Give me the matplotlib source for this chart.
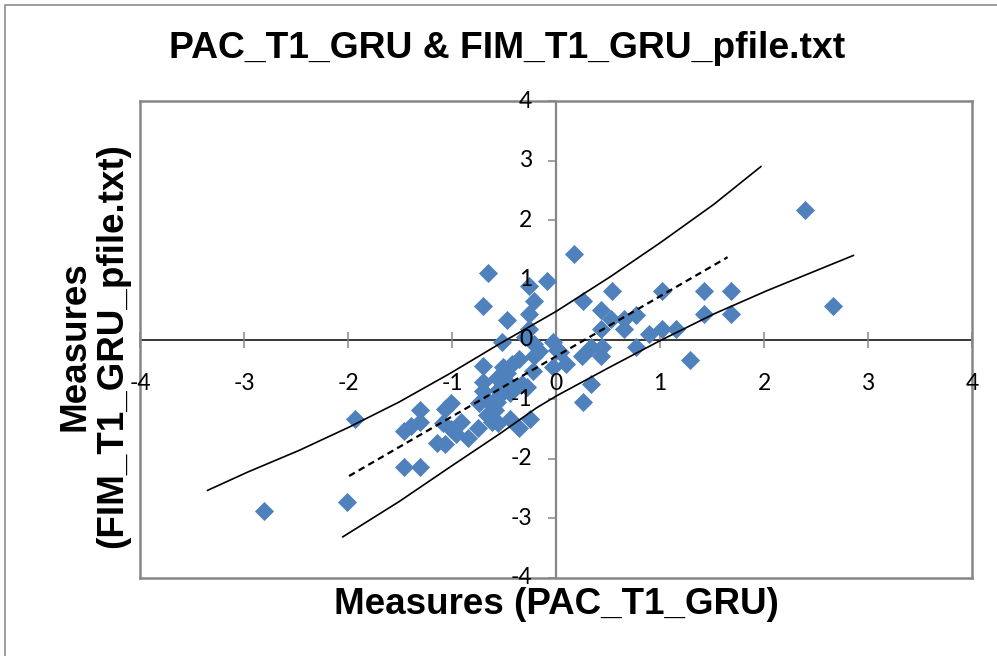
import matplotlib.pyplot as plt
import matplotlib.patches as patches
import matplotlib.transforms as mtransforms
import numpy as np

# item measures: PAC_T1_GRU (x) vs FIM_T1_GRU_pfile.txt (y)
pac = [2.39, 2.66, 0.17, -0.65, -0.09, -0.26, -0.21, -0.70, -0.26, -0.47,
       -0.26, 0.54, 1.02, 1.42, 1.68, 0.26, 0.43, 0.53, 0.65, 0.77,
       1.42, 1.68, 0.43, 0.65, 1.02, 1.15, 0.89, -0.52, -0.30, -0.21,
       -0.03, 0.01, -0.16, -0.21, -0.36, -0.42, -0.51, -0.70, -0.03, 0.10,
       -0.22, -0.47, 0.25, 0.34, 0.44, 0.43, 0.77, 0.04, 1.29, 0.34,
       0.26, -0.57, -0.70, -0.45, -0.33, -0.28, -0.39, -0.56, -0.44, -0.70,
       -0.56, -0.74, -0.64, -1.01, -0.59, -1.07, -1.31, -0.66, -1.93, -0.44,
       -0.25, -0.56, -1.09, -1.31, -0.91, -1.39, -0.75, -0.36, -1.46, -1.01,
       -0.96, -0.85, -1.14, -1.07, -1.46, -1.31, -2.01, -2.81, -0.62, -0.57]
fim = [2.17, 0.57, 1.44, 1.12, 0.98, 0.90, 0.65, 0.57, 0.42, 0.33,
       0.17, 0.82, 0.82, 0.82, 0.82, 0.64, 0.49, 0.34, 0.35, 0.41,
       0.42, 0.42, 0.18, 0.17, 0.18, 0.18, 0.09, -0.04, 0.04, -0.07,
       -0.05, -0.17, -0.19, -0.27, -0.32, -0.41, -0.46, -0.45, -0.46, -0.41,
       -0.53, -0.56, -0.27, -0.13, -0.12, -0.28, -0.13, -0.21, -0.34, -0.74,
       -1.05, -0.65, -0.72, -0.74, -0.75, -0.80, -0.82, -0.85, -0.90, -0.86,
       -0.97, -1.06, -1.05, -1.06, -1.19, -1.17, -1.19, -1.27, -1.33, -1.33,
       -1.34, -1.40, -1.40, -1.39, -1.39, -1.45, -1.49, -1.48, -1.54, -1.50,
       -1.58, -1.66, -1.73, -1.76, -2.14, -2.14, -2.73, -2.88, -1.38, -1.05]

# identity line (dashed)
ident_x = [-1.99, 1.65]
ident_y = [-2.29, 1.38]

# confidence band curves
upper_x = [-3.35, -2.96, -2.47, -1.99, -1.51, -1.02, -0.54, 0.00, 0.52, 1.00, 1.52, 1.97]
upper_y = [-2.53, -2.22, -1.86, -1.47, -1.05, -0.57, -0.07, 0.47, 1.05, 1.62, 2.27, 2.90]
lower_x = [-2.05, -1.51, -1.02, -0.54, -0.19, 0.00, 0.50, 1.00, 1.52, 2.03, 2.86]
lower_y = [-3.31, -2.72, -2.14, -1.58, -1.15, -0.95, -0.48, -0.02, 0.43, 0.82, 1.41]

ticks = [-4, -3, -2, -1, 0, 1, 2, 3, 4]

title = "PAC_T1_GRU & FIM_T1_GRU_pfile.txt"
xlab = "Measures (PAC_T1_GRU)"
ylab = "Measures\n(FIM_T1_GRU_pfile.txt)"

W, H = 997, 656
fig = plt.figure(figsize=(W / 100, H / 100), dpi=100)

# outer chart border (runs off the right/bottom of the image)
fig.patches.append(patches.Rectangle((4.5 / W, -0.2), 2, 1.2 - 5 / H,
                                     transform=fig.transFigure, fill=False,
                                     edgecolor="#8c8c8c", lw=1.2))

ax = fig.add_axes([140 / W, (H - 578) / H, 832 / W, 477 / H])
ax.set_xlim(-4, 4)
ax.set_ylim(-4, 4)
ax.set_xticks([])
ax.set_yticks([])
for s in ax.spines.values():
    s.set_color("#868686")
    s.set_linewidth(1.8)

# axes crossing at zero
ax.axhline(0, color="black", lw=1.1, zorder=1)
ax.axvline(0, color="#868686", lw=1.6, zorder=1)
ax.plot(ticks, [0] * len(ticks), ls="none", marker="|", ms=11.5,
        mew=1.1, color="#868686", zorder=1, clip_on=False)
ax.plot([0] * len(ticks), ticks, ls="none", marker=0, ms=6,
        mew=1.1, color="#868686", zorder=1, clip_on=False)

ax.scatter(pac, fim, marker="D", s=95, color="#4F81BD", linewidths=0, zorder=2)

ax.plot(upper_x, upper_y, color="black", lw=1.2, zorder=3)
ax.plot(lower_x, lower_y, color="black", lw=1.2, zorder=3)
ax.plot(ident_x, ident_y, color="black", lw=1.6, ls=(0, (3, 2)), zorder=3)

tick_font = dict(family="Lato", fontsize=16.5, color="black")
for t in ticks:
    tx = mtransforms.offset_copy(ax.transData, fig=fig, x=0, y=-31.5, units="points")
    ax.text(t, 0, str(t), transform=tx, ha="center", va="center",
            zorder=4, clip_on=False, **tick_font)
    ty = mtransforms.offset_copy(ax.transData, fig=fig, x=-17, y=0, units="points")
    ax.text(0, t, str(t), transform=ty, ha="right", va="center",
            zorder=4, clip_on=False, **tick_font)

fig.text(507 / W, 1 - 48 / H, title, ha="center", va="center",
         family="Liberation Sans", weight="bold", fontsize=26.8)
fig.text(556 / W, 1 - 605 / H, xlab, ha="center", va="center",
         family="Liberation Sans", weight="bold", fontsize=26.5)
fig.text(94 / W, 1 - 346 / H, ylab, ha="center", va="center", rotation=90,
         family="Liberation Sans", weight="bold", fontsize=26.5, linespacing=1.12,
         multialignment="center")

fig.savefig("out.png", dpi=100)
